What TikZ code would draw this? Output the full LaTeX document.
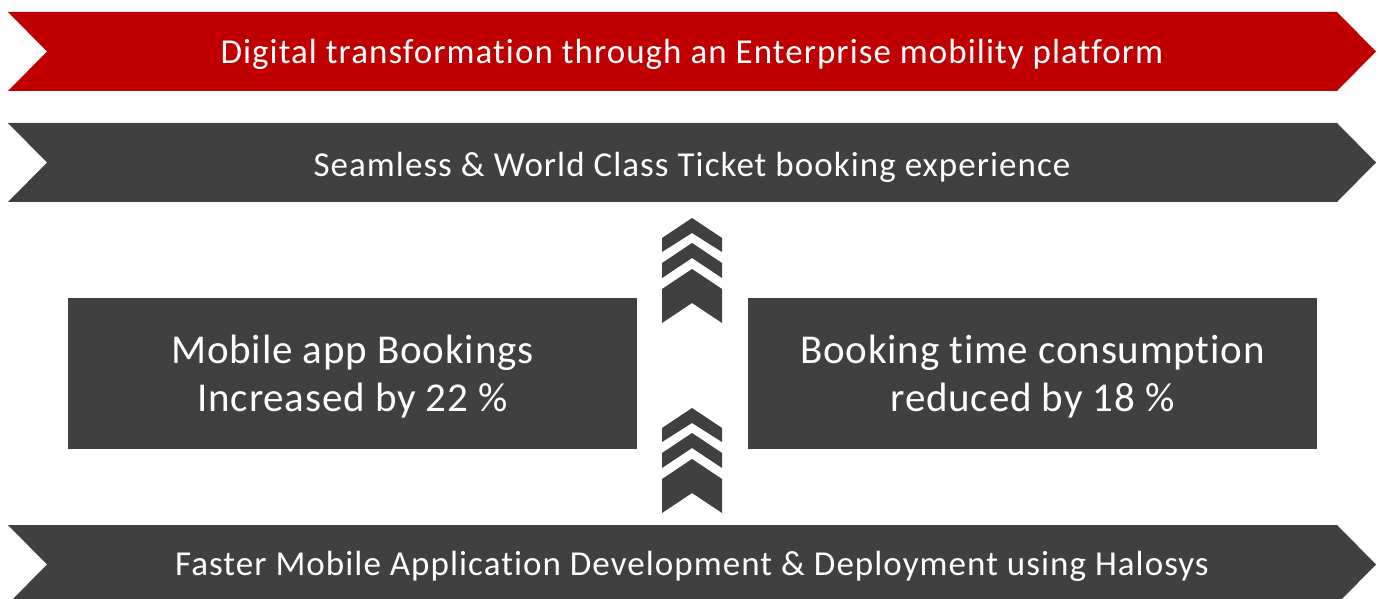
\documentclass[tikz,border=0pt]{standalone}
\usepackage{fontspec}
\setmainfont{Carlito}[Ligatures=NoCommon, LetterSpace=2]
\newfontfamily\bandfont{Carlito}[Ligatures=NoCommon, LetterSpace=3]
\usetikzlibrary{positioning}
\definecolor{my_red}{RGB}{192, 0, 0}
\definecolor{my_grey}{RGB}{64, 64, 64}
\newcommand{\boxstrut}{\rule{0pt}{35pt}}
\tikzset {
  bandtext/.style = {text=white, font=\bandfont\fontsize{35}{42}\selectfont, inner sep=0pt, anchor=base},
  box/.style = {fill=my_grey, text=white, minimum width=569pt, minimum height=151pt, align=center, font=\fontsize{41}{48}\selectfont},
  uparrow/.style = {fill=my_grey}
}
% one banner: y of top, fill colour
\newcommand{\banner}[2]{%
  \fill[#2] (8,#1) -- (1337,#1) -- (1376,#1+39.5) -- (1337,#1+79) -- (8,#1+79) -- (47,#1+39.5) -- cycle;}
% three stacked chevrons, y of the top apex
\newcommand{\upchevrons}[1]{%
  \fill[uparrow] (692,#1) -- (722,#1+20) -- (722,#1+34) -- (692,#1+15) -- (662,#1+34) -- (662,#1+20) -- cycle;
  \fill[uparrow] (692,#1+25) -- (722,#1+45) -- (722,#1+60) -- (692,#1+40) -- (662,#1+60) -- (662,#1+45) -- cycle;
  \fill[uparrow] (692,#1+51) -- (722,#1+71) -- (722,#1+105) -- (692,#1+85) -- (662,#1+105) -- (662,#1+71) -- cycle;}

\begin{document}
\begin{tikzpicture}[x=1pt, y=-1pt]
    \clip (0,0) rectangle (1385,599);

    \banner{12}{my_red}
    \banner{123}{my_grey}
    \banner{525}{my_grey}

    \node[bandtext] (digital) at (692,63.3) {Digital transformation through an Enterprise mobility platform};
    \node[bandtext] (seamless) at (692,176.7) {Seamless \& World Class Ticket booking experience};
    \node[bandtext] (faster) at (692,575.7) {Faster Mobile Application Development \& Deployment using Halosys};

    \node[box] (bookings) at (352.5,373.5) {\boxstrut Mobile app Bookings\\Increased by 22 \%};
    \node[box] (booktime) at (1032.5,373.5) {\boxstrut Booking time consumption\\reduced by 18 \%};

    \upchevrons{218}
    \upchevrons{408}

\end{tikzpicture}
\end{document}
